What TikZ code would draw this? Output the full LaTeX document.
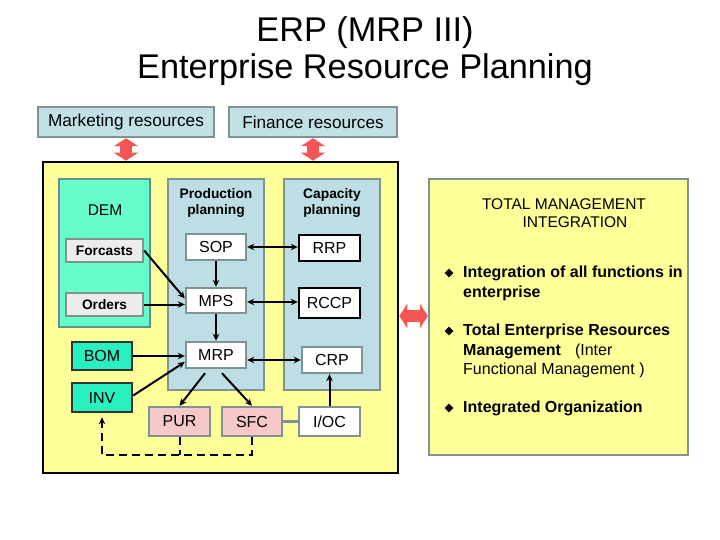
\documentclass[tikz,border=0pt]{standalone}
\usepackage{fontspec}
\setmainfont{Liberation Sans}
\usetikzlibrary{arrows.meta,calc,shapes.geometric}
\definecolor{panelblue}{RGB}{188,222,228}
\definecolor{topblue}{RGB}{194,225,231}
\definecolor{demgreen}{RGB}{102,255,204}
\definecolor{bomgreen}{RGB}{40,240,190}
\definecolor{yel}{RGB}{255,255,153}
\definecolor{pinkbox}{RGB}{247,200,200}
\definecolor{lgray}{RGB}{236,236,236}
\definecolor{redarr}{RGB}{245,85,85}
\definecolor{bord}{RGB}{130,145,145}
\tikzset{
  fs/.style={font=\fontsize{#1}{#1}\selectfont},
  base/.style={draw, inner sep=0pt, line width=2.4pt},
  topbox/.style={base, fill=topblue, draw=bord, fs=17.2},
  panel/.style={base, fill=panelblue, draw=bord, line width=2.8pt},
  wbox/.style={base, fill=white, draw=bord, fs=16},
  kbox/.style={base, fill=white, draw=black, fs=16},
  gbox/.style={base, fill=lgray, draw=bord, font=\fontsize{13.7}{13.7}\selectfont\bfseries},
  tbox/.style={base, fill=bomgreen, draw=black!80, fs=16},
  pbox/.style={base, fill=pinkbox, draw=bord, fs=16},
  tip/.style={Stealth[length=7pt,width=6.5pt]},
  arr/.style={line width=2pt, -{Stealth[length=7pt,width=6.5pt]}},
  darr/.style={line width=2pt, {Stealth[length=7pt,width=6.5pt]}-{Stealth[length=7pt,width=6.5pt]}},
  bigarr/.style={redarr, line width=12pt, {Triangle[length=8pt,width=24pt]}-{Triangle[length=8pt,width=24pt]}},
  bul/.style={diamond, fill=black, inner sep=0pt, minimum size=9pt},
  btxt/.style={anchor=west, inner sep=0pt, font=\fontsize{16}{16}\selectfont\bfseries},
  dsh/.style={line width=2pt, dash pattern=on 8pt off 5pt},
}
\begin{document}
\begin{tikzpicture}[x=1pt,y=-1pt]
\useasboundingbox (0,0) rectangle (720,540);
% title
\node[fs=34.3] (t1) at (365,33) {ERP (MRP III)};
\node[fs=34.3] (t2) at (365,70) {Enterprise Resource Planning};
% top boxes
\node[topbox, minimum width=176pt, minimum height=30pt] (mkt) at (126,122) {Marketing resources};
\node[topbox, minimum width=168pt, minimum height=30pt] (fin) at (313,122) {Finance resources};
% big yellow box
\node[draw=black, line width=2.6pt, fill=yel, minimum width=355pt, minimum height=311pt, inner sep=0pt] (big) at (220.5,317.5) {};
% panels
\node[panel, fill=demgreen, draw=bord!80!teal, minimum width=91pt, minimum height=148pt] (dem) at (104.5,253) {};
\node[panel, minimum width=96pt, minimum height=211pt] (prod) at (216,284.5) {};
\node[panel, minimum width=96pt, minimum height=211pt] (cap) at (332,284.5) {};
\node[fs=15.5] (demlbl) at (105,210) {DEM};
\node[align=center, font=\fontsize{13.8}{16}\selectfont\bfseries] (prodlbl) at (216,203) {Production\\planning};
\node[align=center, font=\fontsize{13.8}{16}\selectfont\bfseries] (caplbl) at (332,203) {Capacity\\planning};
% boxes
\node[gbox, minimum width=77pt, minimum height=23pt] (fc) at (104.5,250.5) {Forcasts};
\node[gbox, minimum width=77pt, minimum height=23pt] (ord) at (104.5,304.5) {Orders};
\node[wbox, minimum width=60pt, minimum height=26pt] (sop) at (216,247) {SOP};
\node[kbox, minimum width=61pt, minimum height=26pt] (rrp) at (329.5,248) {RRP};
\node[wbox, minimum width=60pt, minimum height=25pt] (mps) at (216,300.5) {MPS};
\node[kbox, minimum width=61pt, minimum height=30pt] (rccp) at (329.5,303) {RCCP};
\node[wbox, minimum width=60pt, minimum height=26pt] (mrp) at (216,355) {MRP};
\node[wbox, minimum width=60pt, minimum height=26pt] (crp) at (332,360) {CRP};
\node[tbox, minimum width=60pt, minimum height=28pt] (bom) at (102,356) {BOM};
\node[tbox, minimum width=60pt, minimum height=29pt] (inv) at (102,397.5) {INV};
\node[pbox, minimum width=61pt, minimum height=29pt] (pur) at (179.5,421.5) {PUR};
\node[pbox, minimum width=60pt, minimum height=29pt] (sfc) at (252,421.5) {SFC};
\node[wbox, minimum width=61pt, minimum height=29pt] (ioc) at (329.5,421.5) {I/OC};
% connectors
\draw[arr] (fc.east) -- ($(mps.west)+(0,-2)$);
\draw[arr] (ord.east) -- (ord.east -| mps.west);
\draw[arr] (sop.south) -- (mps.north);
\draw[arr] (mps.south) -- (mrp.north);
\draw[darr] (sop.east) -- (sop.east -| rrp.west);
\draw[darr] ($(mps.east)+(0,1.5)$) -- ($(mps.east -| rccp.west)+(0,1.5)$);
\draw[darr] (crp.west -| mrp.east) -- (crp.west);
\draw[arr] (bom.east) -- (bom.east -| mrp.west);
\draw[arr] ($(inv.east)+(0,-2)$) -- ($(mrp.west)+(0,7)$);
\draw[arr] ($(mrp.south)+(-11,4)$) -- (pur.north);
\draw[arr] ($(mrp.south)+(6,4)$) -- (sfc.north);
\draw[arr] (ioc.north) -- (ioc.north |- crp.south);
\draw[line width=2.2pt, bord] (sfc.east) -- (ioc.west);
\coordinate (dl) at (102,455);
\draw[dsh] (pur.south) -- (pur.south |- dl);
\draw[dsh, -{Stealth[length=7pt,width=6.5pt]}, shorten >=4pt] (sfc.south) -- (sfc.south |- dl) -- (dl) -- (inv.south);
% red double arrows
\draw[bigarr] (mkt.south) -- (mkt.south |- big.north);
\draw[bigarr] (fin.south) -- (fin.south |- big.north);
% right box
\node[draw=bord, line width=2.2pt, fill=yel, minimum width=259pt, minimum height=276pt, inner sep=0pt] (tmi) at (558.5,317) {};
\draw[bigarr] ($(big.east)+(0,-1.5)$) -- ($(tmi.west)+(0,-1)$);
\node[fs=15.5] (tm1) at (564,204) {TOTAL MANAGEMENT};
\node[fs=15.5] (tm2) at (575,222) {INTEGRATION};
\node[bul] (b1) at (449,273) {};
\node[bul] (b2) at (449,331) {};
\node[bul] (b3) at (449,408) {};
\node[btxt] (l1) at (463,273) {Integration of all functions in};
\node[btxt] (l2) at (463,293) {enterprise};
\node[btxt] (l3) at (463,331) {Total Enterprise Resources};
\node[btxt] (l4) at (463,351) {Management\hspace{14pt}{\mdseries(Inter}};
\node[btxt, font=\fontsize{16}{16}\selectfont] (l5) at (463,370) {Functional Management )};
\node[btxt] (l6) at (463,408) {Integrated Organization};
\end{tikzpicture}
\end{document}
